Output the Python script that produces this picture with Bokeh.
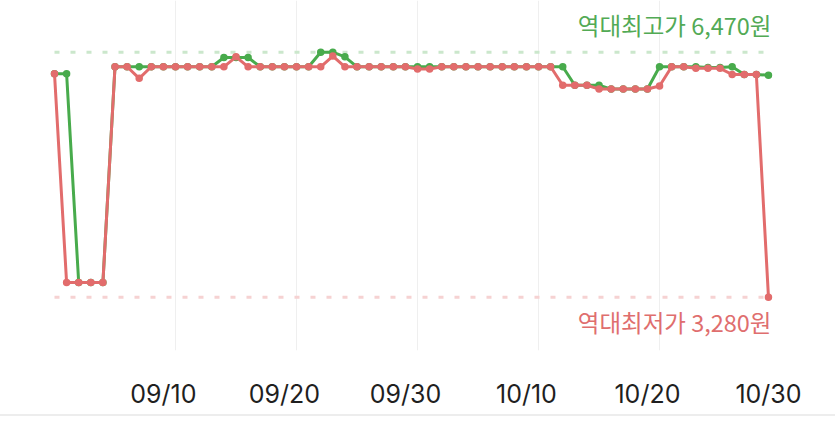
import pandas as pd
from bokeh.plotting import figure
from bokeh.models import LinearAxis, FixedTicker, Range1d, Grid, ColumnDataSource
from bokeh.core.properties import value
from bokeh.embed import file_html
from bokeh.resources import INLINE

# ---------------- data ----------------
dates = [d.strftime("%m/%d") for d in pd.date_range("2023-09-01", "2023-10-30")]

green_prices = [
    6190, 6190,
    3470, 3470, 3470,
    6280, 6280, 6280, 6280, 6280, 6280, 6280, 6280, 6280,
    6400, 6400, 6400,
    6280, 6280, 6280, 6280, 6280,
    6470, 6470,
    6410,
    6280, 6280, 6280, 6280, 6280, 6280, 6280, 6280, 6280, 6280,
    6280, 6280, 6280, 6280, 6280, 6280, 6280,
    6280,
    6040, 6040, 6040,
    5990, 5990, 5990, 5990,
    6280, 6280, 6280, 6280,
    6270, 6270,
    6280,
    6180, 6180,
    6170,
]

red_prices = [
    6190,
    3470, 3470, 3470, 3470,
    6280, 6280,
    6130,
    6280, 6280, 6280, 6280, 6280, 6280, 6280,
    6410,
    6280, 6280, 6280, 6280, 6280, 6280, 6280,
    6420,
    6280, 6280, 6280, 6280, 6280, 6280,
    6250, 6250,
    6280, 6280, 6280, 6280, 6280, 6280, 6280, 6280, 6280, 6280,
    6040, 6040, 6040,
    5990, 5990, 5990, 5990, 5990,
    6030,
    6280, 6280,
    6260, 6260, 6260,
    6180, 6180, 6180,
    3280,
]

tick_labels = ["09/10", "09/20", "09/30", "10/10", "10/20", "10/30"]
all_time_high = 6470
all_time_low = 3280
high_label = "역대최고가 6,470원"
low_label = "역대최저가 3,280원"

# ---------------- derived ----------------
day = list(range(len(dates)))
tick_pos = [dates.index(t) for t in tick_labels]
grid_pos = [t + 1 for t in tick_pos[:-1]]

GREEN = "#48ab4c"
RED = "#e26c6c"
GREEN_TXT = "#52aa55"
RED_TXT = "#df6e6e"

p = figure(
    width=835, height=416,
    x_range=Range1d(-4.462, 64.54),
    y_range=Range1d(2586, 7143),
    x_axis_type=None, y_axis_type=None,
    output_backend="svg", toolbar_location=None,
    min_border_left=0, min_border_right=0, min_border_top=0, min_border_bottom=66,
    outline_line_color=None,
)
p.styles = {"border-bottom": "2px solid #ededed"}

grid = Grid(dimension=0, ticker=FixedTicker(ticks=grid_pos),
            grid_line_color="#efefef", grid_line_width=1)
p.add_layout(grid)

xaxis = LinearAxis(
    ticker=FixedTicker(ticks=tick_pos),
    major_label_overrides={t: l for t, l in zip(tick_pos, tick_labels)},
    axis_line_color=None, major_tick_line_color=None, minor_tick_line_color=None,
    major_tick_out=0, major_tick_in=0,
    major_label_standoff=28,
    major_label_text_font="Inter",
    major_label_text_font_size="25px",
    major_label_text_color="#1f1f1f",
)
p.add_layout(xaxis, "below")

# reference dotted lines
ends = [day[0], day[-1]]
p.line(ends, [all_time_high, all_time_high], line_color="#cbe7cc", line_width=3, line_dash="5 11")
p.line(ends, [all_time_low, all_time_low], line_color="#f6d2d2", line_width=3, line_dash="5 11")

src = ColumnDataSource(dict(day=day, green=green_prices, red=red_prices))
p.line("day", "green", source=src, line_color=GREEN, line_width=3)
p.scatter("day", "green", source=src, size=7.5, fill_color=GREEN, line_color=None)
p.line("day", "red", source=src, line_color=RED, line_width=3)
p.scatter("day", "red", source=src, size=7.5, fill_color=RED, line_color=None)

p.text(x=[day[-1]], y=[all_time_high], text=[high_label],
       text_font=value("Noto Sans CJK KR"), text_font_size="23.5px",
       text_color=GREEN_TXT, text_align="right", text_baseline="middle",
       x_offset=3, y_offset=-27)
p.text(x=[day[-1]], y=[all_time_low], text=[low_label],
       text_font=value("Noto Sans CJK KR"), text_font_size="23.5px",
       text_color=RED_TXT, text_align="right", text_baseline="middle",
       x_offset=3, y_offset=25)

open("out.html", "w").write(file_html(p, INLINE))
